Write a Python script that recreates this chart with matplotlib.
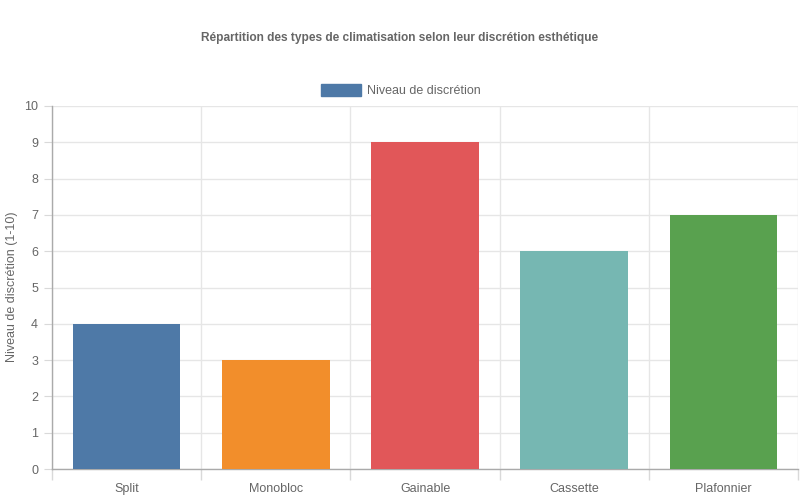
import matplotlib.pyplot as plt
import numpy as np
from matplotlib.patches import Rectangle

plt.rcParams['font.family'] = ['Liberation Sans', 'DejaVu Sans']

types = ['Split', 'Monobloc', 'Gainable', 'Cassette', 'Plafonnier']
discretion = [4, 3, 9, 6, 7]
colors = ['#4e79a7', '#f28e2b', '#e15759', '#76b7b2', '#59a14f']

title = 'Répartition des types de climatisation selon leur discrétion esthétique'
serie = 'Niveau de discrétion'
ylabel = 'Niveau de discrétion (1-10)'

fig = plt.figure(figsize=(8, 5), dpi=100)
ax = fig.add_axes([0.065, 0.062, 0.9325, 0.726])

x = np.arange(len(types))
ax.bar(x, discretion, width=0.72, color=colors, zorder=3)

ax.set_xlim(-0.5, len(types) - 0.5)
ax.set_ylim(0, 10)
ax.set_yticks(range(0, 11))
ax.set_xticks(x)
ax.set_xticklabels(types)
ax.set_xticks(np.arange(-0.5, len(types)), minor=True)

ax.grid(axis='y', color='#e6e6e6', linewidth=1, zorder=0)
ax.grid(axis='x', which='minor', color='#e6e6e6', linewidth=1, zorder=0)
ax.tick_params(axis='x', which='major', length=0, pad=10, labelsize=9, labelcolor='#666666')
ax.tick_params(axis='x', which='minor', length=8, color='#d9d9d9', width=1)
ax.tick_params(axis='y', length=6, color='#d9d9d9', labelsize=9, labelcolor='#666666', pad=4)

for side in ['top', 'right']:
    ax.spines[side].set_visible(False)
for side in ['left', 'bottom']:
    ax.spines[side].set_color('#aaaaaa')
    ax.spines[side].set_linewidth(1)

fig.text(12 / 800, 1 - 287 / 500, ylabel, rotation=90, ha='center', va='center',
         fontsize=9, color='#666666')

fig.text(0.5, 1 - 38 / 500, title, ha='center', va='center', fontsize=8.6,
         fontweight='bold', color='#666666')

# legend
fig.patches.append(Rectangle((321 / 800, 1 - 96 / 500), 40 / 800, 12 / 500,
                             transform=fig.transFigure, color=colors[0]))
fig.text(367 / 800, 1 - 91 / 500, serie, ha='left', va='center', fontsize=9,
         color='#666666')

fig.savefig('out.png', dpi=100)
